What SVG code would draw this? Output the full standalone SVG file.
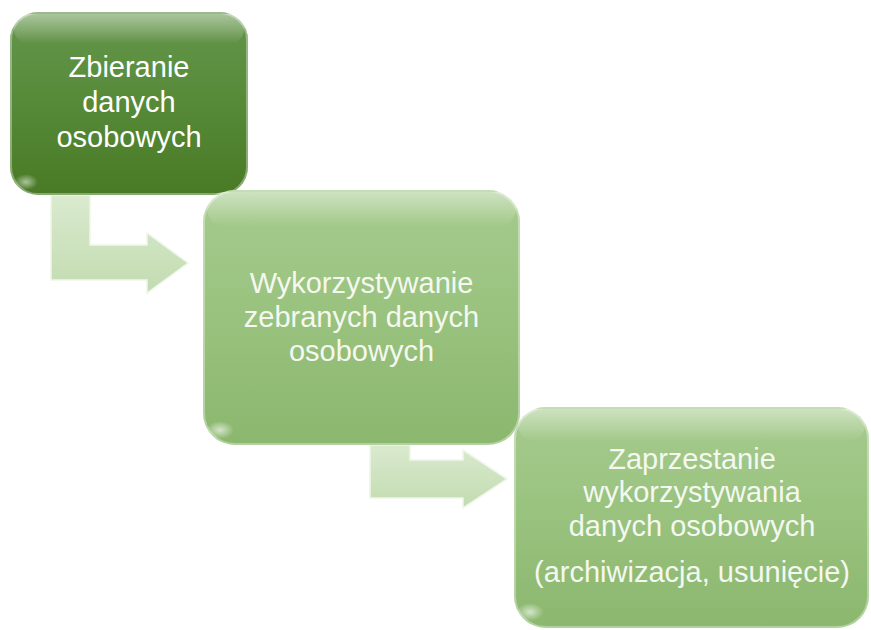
<svg xmlns="http://www.w3.org/2000/svg" width="871" height="630" viewBox="0 0 871 630">
  <defs>
    <linearGradient id="gDark" x1="0" y1="0" x2="0" y2="1">
      <stop offset="0" stop-color="#65964c"/>
      <stop offset="0.5" stop-color="#568a38"/>
      <stop offset="1" stop-color="#497a25"/>
    </linearGradient>
    <linearGradient id="gLight" x1="0" y1="0" x2="0" y2="1">
      <stop offset="0" stop-color="#a6cb8e"/>
      <stop offset="0.5" stop-color="#99c27e"/>
      <stop offset="1" stop-color="#8bb76e"/>
    </linearGradient>
    <linearGradient id="gArrow" x1="0" y1="0" x2="0" y2="1">
      <stop offset="0" stop-color="#d6e8ca"/>
      <stop offset="1" stop-color="#bcd8a8"/>
    </linearGradient>
    <linearGradient id="gTop" x1="0" y1="0" x2="0" y2="1">
      <stop offset="0" stop-color="#ffffff" stop-opacity="0.45"/>
      <stop offset="1" stop-color="#ffffff" stop-opacity="0"/>
    </linearGradient>
    <radialGradient id="gGlare" cx="0.5" cy="0.5" r="0.5">
      <stop offset="0" stop-color="#ffffff" stop-opacity="0.9"/>
      <stop offset="1" stop-color="#ffffff" stop-opacity="0"/>
    </radialGradient>
  </defs>
  <style>
    .lbl { font-family: "Liberation Sans", Arial, sans-serif; font-size: 29px; fill: #ffffff; text-anchor: middle; }
    .lblL { fill: #f4f8f0; }
    .arrow { fill: url(#gArrow); stroke: #eef6e8; stroke-width: 1.5; opacity: 0.9; }
    .edge { fill: none; stroke: #ffffff; stroke-opacity: 0.35; stroke-width: 2; }
  </style>

  <g id="connectors">
    <polygon class="arrow" points="51,195 90,195 90,245 147,245 147,233 188,263 147,293 147,280 51,280"/>
    <polygon class="arrow" points="370,445 410,445 410,460 463,460 463,450 507,479 463,508 463,498 370,498"/>
  </g>

  <g id="node1">
    <rect x="10" y="12" width="238" height="183" rx="28" fill="url(#gDark)"/>
    <rect x="14" y="14" width="230" height="30" rx="15" fill="url(#gTop)"/>
    <rect x="11" y="13" width="236" height="181" rx="27" class="edge"/>
    <ellipse cx="26" cy="182" rx="12" ry="8" fill="url(#gGlare)" opacity="0.6"/>
    <text class="lbl" x="129" y="77">Zbieranie</text>
    <text class="lbl" x="129" y="112">danych</text>
    <text class="lbl" x="129" y="147">osobowych</text>
  </g>

  <g id="node2">
    <rect x="203" y="190" width="317" height="255" rx="32" fill="url(#gLight)"/>
    <rect x="207" y="192" width="309" height="34" rx="17" fill="url(#gTop)"/>
    <rect x="204" y="191" width="315" height="253" rx="31" class="edge"/>
    <ellipse cx="220" cy="430" rx="14" ry="9" fill="url(#gGlare)" opacity="0.7"/>
    <text class="lbl lblL" x="361.5" y="293">Wykorzystywanie</text>
    <text class="lbl lblL" x="361.5" y="327">zebranych danych</text>
    <text class="lbl lblL" x="361.5" y="361">osobowych</text>
  </g>

  <g id="node3">
    <rect x="514" y="407" width="355" height="221" rx="32" fill="url(#gLight)"/>
    <rect x="518" y="409" width="347" height="32" rx="16" fill="url(#gTop)"/>
    <rect x="515" y="408" width="353" height="219" rx="31" class="edge"/>
    <ellipse cx="530" cy="612" rx="14" ry="9" fill="url(#gGlare)" opacity="0.7"/>
    <text class="lbl lblL" x="692" y="469">Zaprzestanie</text>
    <text class="lbl lblL" x="692" y="502">wykorzystywania</text>
    <text class="lbl lblL" x="692" y="536">danych osobowych</text>
    <text class="lbl lblL" x="692" y="582">(archiwizacja, usunięcie)</text>
  </g>
</svg>
